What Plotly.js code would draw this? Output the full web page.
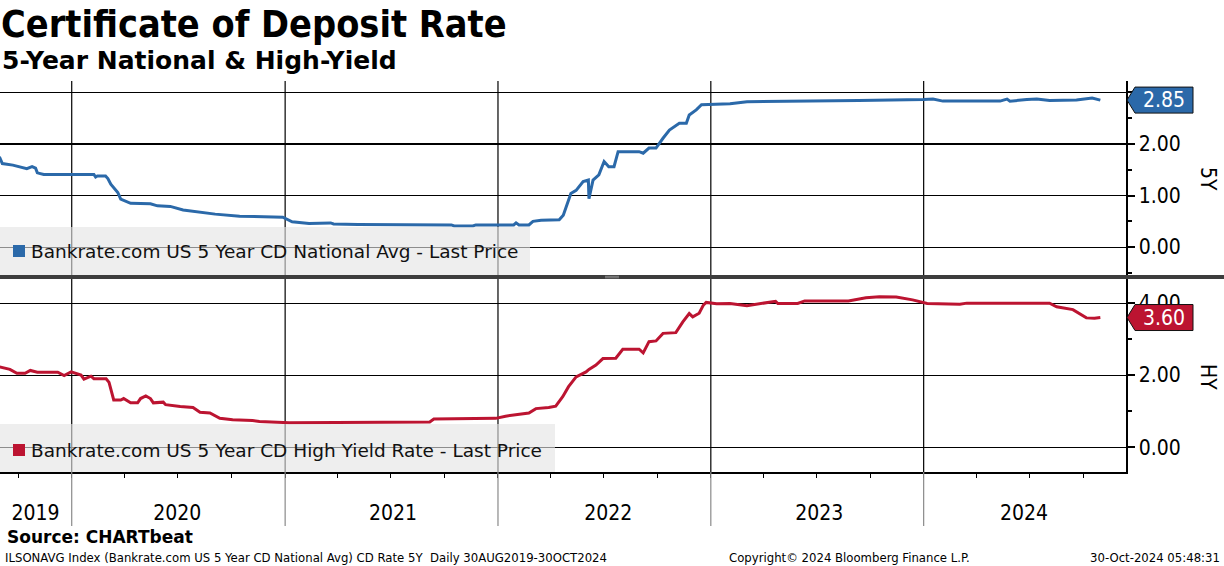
<!DOCTYPE html>
<html>
<head>
<meta charset="utf-8">
<script src="https://cdn.plot.ly/plotly-3.0.1.min.js"></script>
<style>html,body{margin:0;padding:0;background:#fff;}#chart{width:1224px;height:566px;}</style>
</head>
<body>
<div id="chart"></div>
<script>
// ---------- data ----------
const natDates = ['2019-08-30','2019-09-04','2019-09-22','2019-10-04','2019-10-16','2019-10-25','2019-10-31','2019-11-03','2019-11-14','2020-02-08','2020-02-11','2020-02-14','2020-02-28','2020-03-03','2020-03-08','2020-03-20','2020-03-25','2020-04-11','2020-05-15','2020-05-27','2020-06-18','2020-07-10','2020-07-31','2020-09-03','2020-10-15','2020-12-28','2021-01-13','2021-02-11','2021-03-20','2021-03-25','2021-05-06','2021-10-13','2021-10-18','2021-11-19','2021-11-24','2022-01-28','2022-02-01','2022-02-06','2022-02-23','2022-03-02','2022-03-16','2022-04-16','2022-04-23','2022-04-28','2022-05-06','2022-05-15','2022-05-27','2022-06-05','2022-06-06','2022-06-13','2022-06-23','2022-07-02','2022-07-10','2022-07-19','2022-07-26','2022-08-31','2022-09-07','2022-09-17','2022-09-29','2022-10-11','2022-10-22','2022-11-08','2022-11-20','2022-11-25','2022-12-07','2022-12-16','2023-02-03','2023-03-04','2023-05-30','2023-08-25','2023-09-11','2024-01-01','2024-01-17','2024-02-03','2024-05-11','2024-05-23','2024-05-28','2024-06-26','2024-07-13','2024-08-04','2024-09-19','2024-10-16','2024-10-30'];
const natValues = [1.75,1.62,1.59,1.55,1.52,1.56,1.53,1.44,1.41,1.41,1.36,1.38,1.38,1.33,1.22,1.06,0.93,0.85,0.84,0.80,0.79,0.72,0.69,0.64,0.60,0.58,0.49,0.46,0.47,0.45,0.44,0.43,0.41,0.41,0.43,0.43,0.47,0.43,0.43,0.50,0.52,0.53,0.62,0.79,1.04,1.10,1.27,1.30,0.94,1.30,1.40,1.66,1.56,1.56,1.85,1.85,1.82,1.92,1.92,2.11,2.27,2.40,2.40,2.56,2.66,2.76,2.78,2.82,2.83,2.83,2.84,2.86,2.87,2.83,2.83,2.87,2.83,2.86,2.87,2.84,2.85,2.89,2.85];

const hyDates = ['2019-08-30','2019-09-17','2019-09-29','2019-10-13','2019-10-22','2019-11-03','2019-12-08','2019-12-19','2019-12-31','2020-01-12','2020-01-17','2020-01-22','2020-02-03','2020-02-08','2020-02-29','2020-03-05','2020-03-13','2020-03-25','2020-03-30','2020-04-11','2020-04-23','2020-04-28','2020-05-07','2020-05-15','2020-05-20','2020-06-06','2020-06-10','2020-07-05','2020-07-27','2020-08-08','2020-08-25','2020-09-11','2020-10-03','2020-11-06','2020-11-18','2021-01-08','2021-07-08','2021-09-06','2021-09-13','2021-12-28','2022-01-14','2022-01-31','2022-02-23','2022-03-07','2022-03-29','2022-04-10','2022-04-22','2022-05-02','2022-05-15','2022-06-01','2022-06-06','2022-06-18','2022-06-30','2022-07-22','2022-08-03','2022-08-31','2022-09-07','2022-09-17','2022-09-29','2022-10-11','2022-11-02','2022-11-14','2022-11-25','2022-12-01','2022-12-12','2022-12-19','2022-12-24','2023-01-11','2023-02-03','2023-03-04','2023-04-22','2023-04-26','2023-05-30','2023-06-11','2023-08-25','2023-09-24','2023-10-17','2023-11-15','2023-12-13','2024-01-07','2024-03-03','2024-03-15','2024-08-04','2024-08-16','2024-09-13','2024-10-06','2024-10-20','2024-10-30'];
const hyValues = [2.23,2.16,2.05,2.05,2.13,2.08,2.08,1.99,2.09,2.02,2.00,1.89,1.97,1.90,1.90,1.80,1.31,1.31,1.35,1.23,1.23,1.35,1.42,1.35,1.23,1.25,1.18,1.13,1.10,0.97,0.95,0.80,0.76,0.74,0.71,0.68,0.70,0.70,0.78,0.80,0.86,0.89,0.95,1.07,1.10,1.14,1.40,1.68,1.95,2.09,2.16,2.28,2.46,2.47,2.72,2.72,2.62,2.93,2.95,3.16,3.18,3.48,3.71,3.62,3.72,3.94,4.02,3.98,3.99,3.93,4.05,3.99,3.99,4.06,4.06,4.15,4.18,4.17,4.09,3.99,3.97,4.00,4.00,3.90,3.82,3.59,3.58,3.60];

const yearBoundaries = ['2020-01-01','2021-01-01','2022-01-01','2023-01-01','2024-01-01'];
const yearLabelPos = ['2019-10-31','2020-06-30','2021-07-05','2022-07-09','2023-07-06','2024-06-21'];
const yearLabels = ['2019','2020','2021','2022','2023','2024'];

const natTicks = [0,1,2,3];
const natTickText = ['0.00','1.00','2.00',''];
const hyTicks = [0,2,4];
const hyTickText = ['0.00','2.00','4.00'];

const natName = 'Bankrate.com US 5 Year CD National Avg - Last Price';
const hyName = 'Bankrate.com US 5 Year CD High Yield Rate - Last Price';

// ---------- styling ----------
const BLUE = '#2b69a9';
const RED = '#bc1431';
const FONT = 'DejaVu Sans Condensed, DejaVu Sans, sans-serif';
const FONT_W = 'DejaVu Sans, sans-serif';

// pixel geometry helpers (plot area: x 0..1126, y 81..472)
const PW = 1126, PT = 81, PB = 472, PH = PB - PT;
const px = x => x / PW;
const py = y => (PB - y) / PH;

const traces = [
  {x: natDates, y: natValues, type: 'scatter', mode: 'lines', xaxis: 'x', yaxis: 'y',
   line: {color: BLUE, width: 3}, hoverinfo: 'skip', name: natName},
  {x: hyDates, y: hyValues, type: 'scatter', mode: 'lines', xaxis: 'x', yaxis: 'y2',
   line: {color: RED, width: 3}, hoverinfo: 'skip', name: hyName}
];

const shapes = [];
// year grid lines (inside panels) and separators (below axis)
yearBoundaries.forEach(d => {
  shapes.push({type: 'line', xref: 'x', yref: 'paper', x0: d, x1: d, y0: 0, y1: 1,
               line: {color: 'black', width: 1.2}, layer: 'below'});
  shapes.push({type: 'line', xref: 'x', yref: 'paper', x0: d, x1: d, y0: 0, y1: py(526),
               line: {color: '#8a8a8a', width: 1.2}, layer: 'above'});
});
// legend boxes
shapes.push({type: 'rect', xref: 'paper', yref: 'paper', x0: 0, x1: px(530), y0: py(275), y1: py(227),
             fillcolor: 'rgba(228,228,228,0.62)', line: {width: 0}, layer: 'above'});
shapes.push({type: 'rect', xref: 'paper', yref: 'paper', x0: 0, x1: px(555), y0: py(472), y1: py(424),
             fillcolor: 'rgba(228,228,228,0.62)', line: {width: 0}, layer: 'above'});
// legend squares
shapes.push({type: 'rect', xref: 'paper', yref: 'paper', x0: px(13), x1: px(25), y0: py(257), y1: py(245),
             fillcolor: BLUE, line: {width: 0}, layer: 'above'});
shapes.push({type: 'rect', xref: 'paper', yref: 'paper', x0: px(13), x1: px(25), y0: py(456), y1: py(444),
             fillcolor: RED, line: {width: 0}, layer: 'above'});
// panel separator
shapes.push({type: 'rect', xref: 'paper', yref: 'paper', x0: -0.01, x1: px(1230), y0: py(279), y1: py(275),
             fillcolor: '#3d3d3d', line: {width: 0}, layer: 'above'});
shapes.push({type: 'line', xref: 'paper', yref: 'paper', x0: px(605), x1: px(619), y0: py(276.3), y1: py(276.3),
             line: {color: '#9a9a9a', width: 0.8}, layer: 'above'});
shapes.push({type: 'line', xref: 'paper', yref: 'paper', x0: px(605), x1: px(619), y0: py(277.8), y1: py(277.8),
             line: {color: '#9a9a9a', width: 0.8}, layer: 'above'});

// last-value tags
const natLast = natValues[natValues.length - 1];
const hyLast = hyValues[hyValues.length - 1];
const tagPath = 'M1,0 L9,13 L67,13 L67,-13 L9,-13 Z';
shapes.push({type: 'path', xref: 'paper', yref: 'y', xsizemode: 'pixel', ysizemode: 'pixel',
             xanchor: 1, yanchor: natLast, path: tagPath, fillcolor: BLUE,
             line: {color: '#111', width: 1}, layer: 'above'});
shapes.push({type: 'path', xref: 'paper', yref: 'y2', xsizemode: 'pixel', ysizemode: 'pixel',
             xanchor: 1, yanchor: hyLast, path: tagPath, fillcolor: RED,
             line: {color: '#111', width: 1}, layer: 'above'});

const annotations = [
  {xref: 'paper', yref: 'paper', x: px(0), y: py(60), xanchor: 'left', yanchor: 'middle', showarrow: false,
   text: '<b>5-Year National &amp; High-Yield</b>', font: {family: FONT_W, size: 25, color: 'black'}},
  {xref: 'paper', yref: 'paper', x: px(29), y: py(251), xanchor: 'left', yanchor: 'middle', showarrow: false,
   text: natName, font: {family: FONT_W, size: 18.5, color: '#111'}},
  {xref: 'paper', yref: 'paper', x: px(29), y: py(450), xanchor: 'left', yanchor: 'middle', showarrow: false,
   text: hyName, font: {family: FONT_W, size: 18.5, color: '#111'}},
  {xref: 'paper', yref: 'y', x: px(1164), y: natLast, xanchor: 'center', yanchor: 'middle', showarrow: false,
   text: natLast.toFixed(2), font: {family: FONT, size: 21, color: 'white'}},
  {xref: 'paper', yref: 'y2', x: px(1164), y: hyLast, xanchor: 'center', yanchor: 'middle', showarrow: false,
   text: hyLast.toFixed(2), font: {family: FONT, size: 21, color: 'white'}},
  {xref: 'paper', yref: 'paper', x: px(1208), y: py(179), xanchor: 'center', yanchor: 'middle', showarrow: false,
   text: '5Y', textangle: 90, font: {family: FONT, size: 21, color: 'black'}},
  {xref: 'paper', yref: 'paper', x: px(1208), y: py(377), xanchor: 'center', yanchor: 'middle', showarrow: false,
   text: 'HY', textangle: 90, font: {family: FONT, size: 21, color: 'black'}},
  {xref: 'paper', yref: 'paper', x: px(5), y: py(537), xanchor: 'left', yanchor: 'middle', showarrow: false,
   text: '<b>Source: CHARTbeat</b>', font: {family: FONT_W, size: 17, color: 'black'}},
  {xref: 'paper', yref: 'paper', x: px(3), y: py(557), xanchor: 'left', yanchor: 'middle', showarrow: false,
   text: 'ILSONAVG Index (Bankrate.com US 5 Year CD National Avg) CD Rate 5Y  Daily 30AUG2019-30OCT2024',
   font: {family: FONT, size: 13, color: 'black'}},
  {xref: 'paper', yref: 'paper', x: px(849), y: py(557), xanchor: 'center', yanchor: 'middle', showarrow: false,
   text: 'Copyright© 2024 Bloomberg Finance L.P.', font: {family: FONT, size: 13, color: 'black'}},
  {xref: 'paper', yref: 'paper', x: px(1222), y: py(557), xanchor: 'right', yanchor: 'middle', showarrow: false,
   text: '30-Oct-2024 05:48:31', font: {family: FONT, size: 13, color: 'black'}}
];

const yCommon = {
  side: 'right', anchor: 'x', showgrid: true, gridcolor: 'black', gridwidth: 1.2, zeroline: false,
  showline: true, linecolor: 'black', linewidth: 1.5, ticks: 'outside', ticklen: 7, tickwidth: 2,
  tickcolor: 'black', tickfont: {family: FONT, size: 21, color: 'black'}, tickmode: 'array', fixedrange: true
};

const layout = {
  width: 1224, height: 566,
  margin: {l: 0, r: 1224 - PW, t: PT, b: 566 - PB, pad: 0},
  paper_bgcolor: 'white', plot_bgcolor: 'white',
  showlegend: false,
  title: {text: '<b>Certificate of Deposit Rate</b>', x: 0.0, xanchor: 'left', xref: 'container',
          y: 1 - 24 / 566, yanchor: 'middle', yref: 'container', pad: {l: 1},
          font: {family: FONT, size: 37.5, color: 'black'}},
  xaxis: {
    type: 'date', range: ['2019-08-31', '2024-12-13'], anchor: 'y2', showgrid: false, zeroline: false,
    tickmode: 'array', tickvals: yearLabelPos, ticktext: yearLabels, ticks: '',
    showline: true, linecolor: 'black', linewidth: 1.5, ticklabelstandoff: 21,
    tickfont: {family: FONT, size: 21, color: 'black'}, fixedrange: true,
    minor: {tickmode: 'linear', tick0: '2019-10-01', dtick: 'M3', ticks: 'outside', ticklen: 4,
            tickcolor: 'black', tickwidth: 1, showgrid: false}
  },
  yaxis: Object.assign({}, yCommon, {
    domain: [py(275), 1], range: [-0.54, 3.22], tickvals: natTicks, ticktext: natTickText,
    minor: {dtick: 0.5, ticks: 'outside', ticklen: 4, tickcolor: 'black', showgrid: false}
  }),
  yaxis2: Object.assign({}, yCommon, {
    domain: [0, py(279)], range: [-0.69, 4.67], tickvals: hyTicks, ticktext: hyTickText,
    minor: {dtick: 1, ticks: 'outside', ticklen: 4, tickcolor: 'black', showgrid: false}
  }),
  shapes: shapes,
  annotations: annotations
};

Plotly.newPlot('chart', traces, layout, {staticPlot: true, displayModeBar: false});
</script>
</body>
</html>
